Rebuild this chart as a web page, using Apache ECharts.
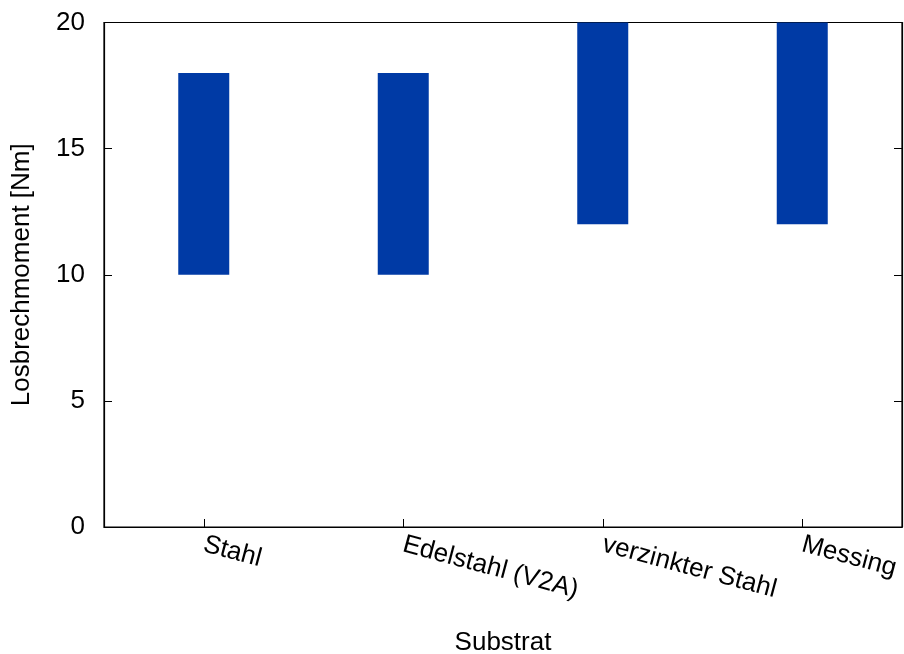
<!DOCTYPE html>
<html>
<head>
<meta charset="utf-8">
<script src="https://cdn.jsdelivr.net/npm/echarts@6/dist/echarts.min.js"></script>
<style>
html,body{margin:0;padding:0;background:#fff;}
#chart{width:904px;height:654px;}
</style>
</head>
<body>
<div id="chart"></div>
<script>
const categories = ['Stahl', 'Edelstahl (V2A)', 'verzinkter Stahl', 'Messing'];
const lowerValues = [10, 10, 12, 12];
const upperValues = [18, 18, 20, 20];
const yTicks = [0, 5, 10, 15, 20];

const FONT = 'Liberation Sans';
const FS = 26;
const chart = echarts.init(document.getElementById('chart'));
const spans = upperValues.map((u, i) => u - lowerValues[i]);

chart.setOption({
  animation: false,
  backgroundColor: '#ffffff',
  textStyle: { fontFamily: FONT },
  grid: {
    left: 104, right: 2, top: 22.5, bottom: 127,
    show: true, borderColor: '#000', borderWidth: 1.2,
    containLabel: false, outerBoundsMode: 'none'
  },
  xAxis: {
    type: 'category',
    data: categories,
    boundaryGap: true,
    name: 'Substrat',
    nameLocation: 'middle',
    nameGap: 103,
    nameTextStyle: { fontFamily: FONT, fontSize: FS, color: '#000' },
    axisLine: { show: true, lineStyle: { color: '#000', width: 1.2 } },
    axisTick: { show: true, inside: true, alignWithLabel: true, length: 8, lineStyle: { color: '#000' } },
    axisLabel: {
      rotate: -15, margin: 17, fontFamily: FONT, fontSize: FS, color: '#000',
      align: 'left', verticalAlign: 'middle', hideOverlap: false
    },
    splitLine: { show: false }
  },
  yAxis: [{
    type: 'value',
    min: yTicks[0], max: yTicks[yTicks.length - 1], interval: 5,
    name: 'Losbrechmoment [Nm]',
    nameLocation: 'middle',
    nameGap: 69,
    nameRotate: 90,
    nameTextStyle: { fontFamily: FONT, fontSize: FS, color: '#000' },
    axisLine: { show: true, lineStyle: { color: '#000', width: 1.2 } },
    axisTick: { show: true, inside: true, length: 8, lineStyle: { color: '#000' } },
    axisLabel: { margin: 19, fontFamily: FONT, fontSize: FS, color: '#000' },
    splitLine: { show: false }
  }, {
    type: 'value', position: 'right',
    min: yTicks[0], max: yTicks[yTicks.length - 1], interval: 5,
    axisLine: { show: true, lineStyle: { color: '#000', width: 1.2 } },
    axisTick: { show: true, inside: true, length: 8, lineStyle: { color: '#000' } },
    axisLabel: { show: false },
    splitLine: { show: false }
  }],
  series: [{
    type: 'bar', stack: 'range', data: lowerValues, barWidth: 51,
    itemStyle: { color: 'rgba(0,0,0,0)' }, silent: true
  }, {
    type: 'bar', stack: 'range', data: spans, barWidth: 51,
    itemStyle: { color: '#003aa5' }
  }]
});
</script>
</body>
</html>
